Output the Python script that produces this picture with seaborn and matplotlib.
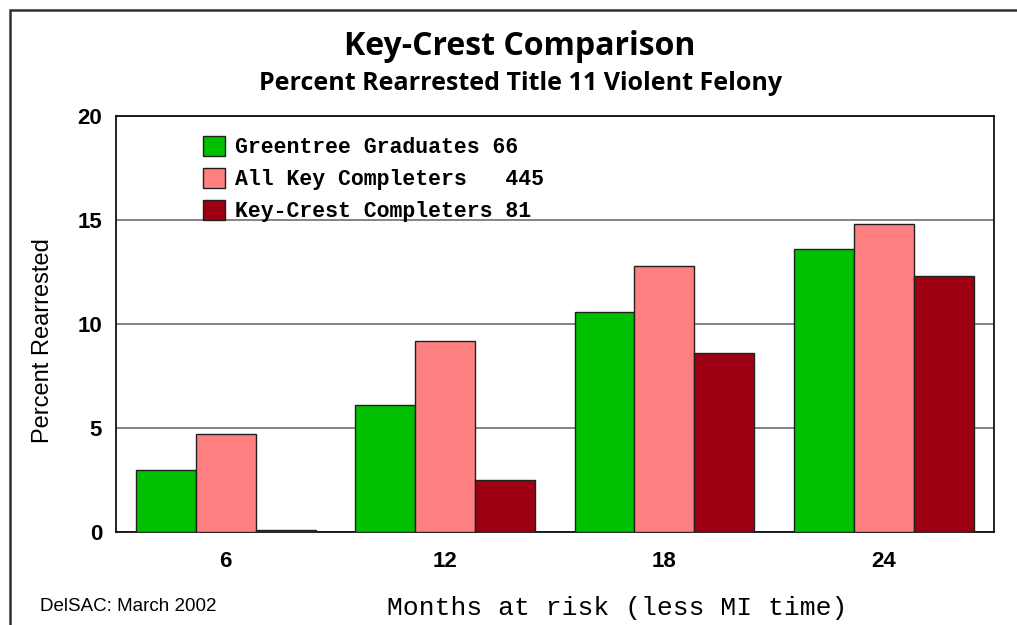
import matplotlib
matplotlib.use('agg')
import matplotlib.pyplot as plt
import seaborn as sns
import pandas as pd
from matplotlib.patches import Rectangle

months = ['6', '12', '18', '24']
groups = ['Greentree Graduates 66', 'All Key Completers   445', 'Key-Crest Completers 81']
greentree = [3.0, 6.1, 10.6, 13.6]
all_key = [4.7, 9.2, 12.8, 14.8]
key_crest = [0.1, 2.5, 8.6, 12.3]
colors = ['#00C000', '#FF8080', '#9C0012']

rows = []
for g, vals in zip(groups, [greentree, all_key, key_crest]):
	for m, v in zip(months, vals):
		rows.append({'Months': m, 'Percent': v, 'Group': g})
df = pd.DataFrame(rows)

sns.set_style('white')
plt.rcParams['font.family'] = ['Liberation Sans', 'DejaVu Sans']
plt.rcParams['text.color'] = 'black'
plt.rcParams['xtick.color'] = 'black'
plt.rcParams['ytick.color'] = 'black'

fig = plt.figure(figsize=(10.17, 6.25), dpi=100)
ax = fig.add_axes([0.114, 0.149, 0.863, 0.665])

sns.barplot(data=df, x='Months', y='Percent', hue='Group', order=months, hue_order=groups,
	palette=colors, width=0.82, edgecolor='#202020', linewidth=1.0, saturation=1, ax=ax, zorder=3)

ax.set_ylim(0, 20)
ax.set_xlim(-0.5, 3.5)
ax.set_yticks([0, 5, 10, 15, 20])
ax.yaxis.grid(True, color='#707070', linewidth=1.2, zorder=0)
ax.set_axisbelow(True)
for s in ax.spines.values():
	s.set_color('black')
	s.set_linewidth(1.2)
ax.tick_params(axis='both', length=0)
ax.tick_params(axis='x', pad=14)
ax.tick_params(axis='y', pad=10)
for lab in ax.get_xticklabels() + ax.get_yticklabels():
	lab.set_fontweight('bold')
	lab.set_fontsize(16)
ax.set_xlabel('')
ax.set_ylabel('')

leg = ax.legend(loc='upper left', bbox_to_anchor=(0.077, 1.0), frameon=False,
	prop={'family': 'Liberation Mono', 'weight': 'bold', 'size': 15.5},
	handlelength=1.05, handleheight=1.05, labelspacing=0.45, handletextpad=0.45)

fig.text(0.511, 0.925, 'Key-Crest Comparison', ha='center', va='center',
	fontsize=23, fontweight='bold', family=['Open Sans', 'DejaVu Sans'])
fig.text(0.512, 0.867, 'Percent Rearrested Title 11 Violent Felony', ha='center', va='center',
	fontsize=18, fontweight='bold', family=['Open Sans', 'DejaVu Sans'])
fig.text(0.042, 0.455, 'Percent Rearrested', rotation=90, ha='center', va='center', fontsize=17)
fig.text(0.607, 0.027, 'Months at risk (less MI time)', ha='center', va='center',
	fontsize=19, family='Liberation Mono')
fig.text(0.039, 0.029, 'DelSAC: March 2002', ha='left', va='center', fontsize=13.5)

fig.patches.append(Rectangle((0.0098, -0.1), 1.2, 1.084, transform=fig.transFigure,
	fill=False, edgecolor='#303030', linewidth=1.8))

fig.savefig('out.png', dpi=100)
